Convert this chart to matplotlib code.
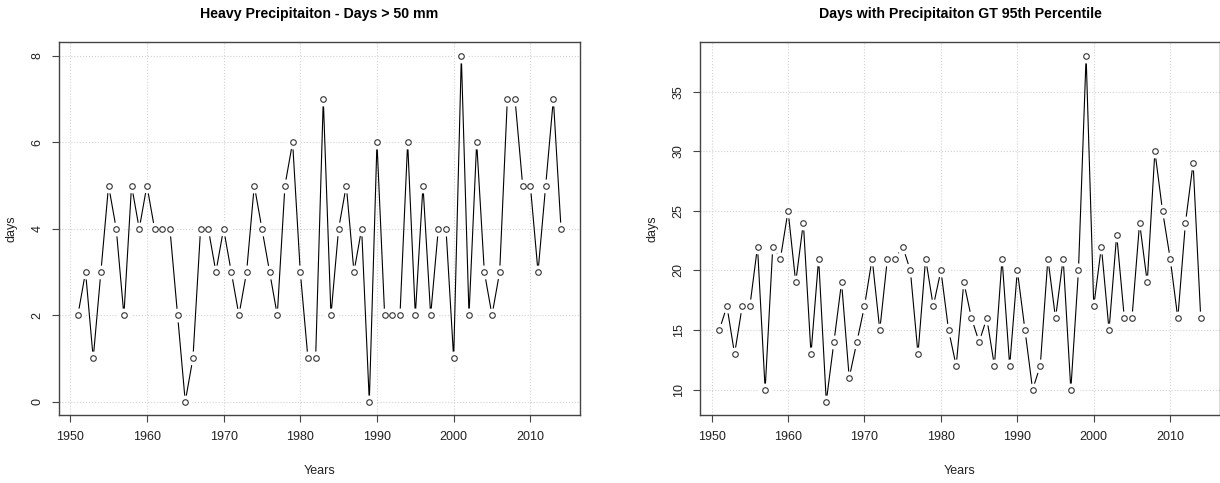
import matplotlib
matplotlib.use("Agg")
import matplotlib.pyplot as plt

plt.rcParams['font.family'] = ['Liberation Sans', 'DejaVu Sans']

# years 1951-2014
years = list(range(1951, 2015))

# days with precipitation > 50 mm
heavy_days = [2, 3, 1, 3, 5, 4, 2, 5, 4, 5,
              4, 4, 4, 2, 0, 1, 4, 4, 3, 4,
              3, 2, 3, 5, 4, 3, 2, 5, 6, 3,
              1, 1, 7, 2, 4, 5, 3, 4, 0, 6,
              2, 2, 2, 6, 2, 5, 2, 4, 4, 1,
              8, 2, 6, 3, 2, 3, 7, 7, 5, 5,
              3, 5, 7, 4]

# days with precipitation greater than 95th percentile
p95_days = [15, 17, 13, 17, 17, 22, 10, 22, 21, 25,
            19, 24, 13, 21, 9, 14, 19, 11, 14, 17,
            21, 15, 21, 21, 22, 20, 13, 21, 17, 20,
            15, 12, 19, 16, 14, 16, 12, 21, 12, 20,
            15, 10, 12, 21, 16, 21, 10, 20, 38, 17,
            22, 15, 23, 16, 16, 24, 19, 30, 25, 21,
            16, 24, 29, 16]

titles = ['Heavy Precipitaiton - Days > 50 mm',
          'Days with Precipitaiton GT 95th Percentile']
x_ticks = [1950, 1960, 1970, 1980, 1990, 2000, 2010]
y_ticks = [[0, 2, 4, 6, 8], [10, 15, 20, 25, 30, 35]]


def r_style_panel(ax, x, y, title, yticks):
    # R-like limits: 4% padding of the data range
    xr = max(x) - min(x)
    yr = max(y) - min(y)
    ax.set_xlim(min(x) - 0.04 * xr, max(x) + 0.04 * xr)
    ax.set_ylim(min(y) - 0.04 * yr, max(y) + 0.04 * yr)

    # type = "b": line with gaps around the points
    ax.plot(x, y, color='black', lw=0.8, zorder=2)
    ax.plot(x, y, ls='none', marker='o', ms=10, mfc='white', mec='none', zorder=3)
    ax.plot(x, y, ls='none', marker='o', ms=4.0, mfc='white', mec='#333333',
            mew=0.8, zorder=4)

    ax.set_xticks(x_ticks)
    ax.set_yticks(yticks)
    ax.grid(True, color='#d3d3d3', ls=':', lw=0.8)
    ax.set_axisbelow(True)
    ax.tick_params(direction='out', length=5, width=0.8, color='#444444',
                   labelsize=9, labelcolor='#222222', pad=6)
    for lab in ax.get_yticklabels():
        lab.set_rotation(90)
        lab.set_va('center')
    for s in ax.spines.values():
        s.set_color('#444444')
        s.set_linewidth(1.0)

    ax.set_title(title, fontsize=10.2, fontweight='bold', pad=17)
    ax.set_xlabel('Years', fontsize=9, labelpad=16, color='#222222')
    ax.set_ylabel('days', fontsize=9, labelpad=10, color='#222222')


fig = plt.figure(figsize=(12.2, 4.83), dpi=100)
ax1 = fig.add_axes([0.048, 0.140, 0.4277, 0.7729])
ax2 = fig.add_axes([0.5738, 0.140, 0.4262, 0.7729])

r_style_panel(ax1, years, heavy_days, titles[0], y_ticks[0])
r_style_panel(ax2, years, p95_days, titles[1], y_ticks[1])

fig.savefig('out.png', dpi=100)
